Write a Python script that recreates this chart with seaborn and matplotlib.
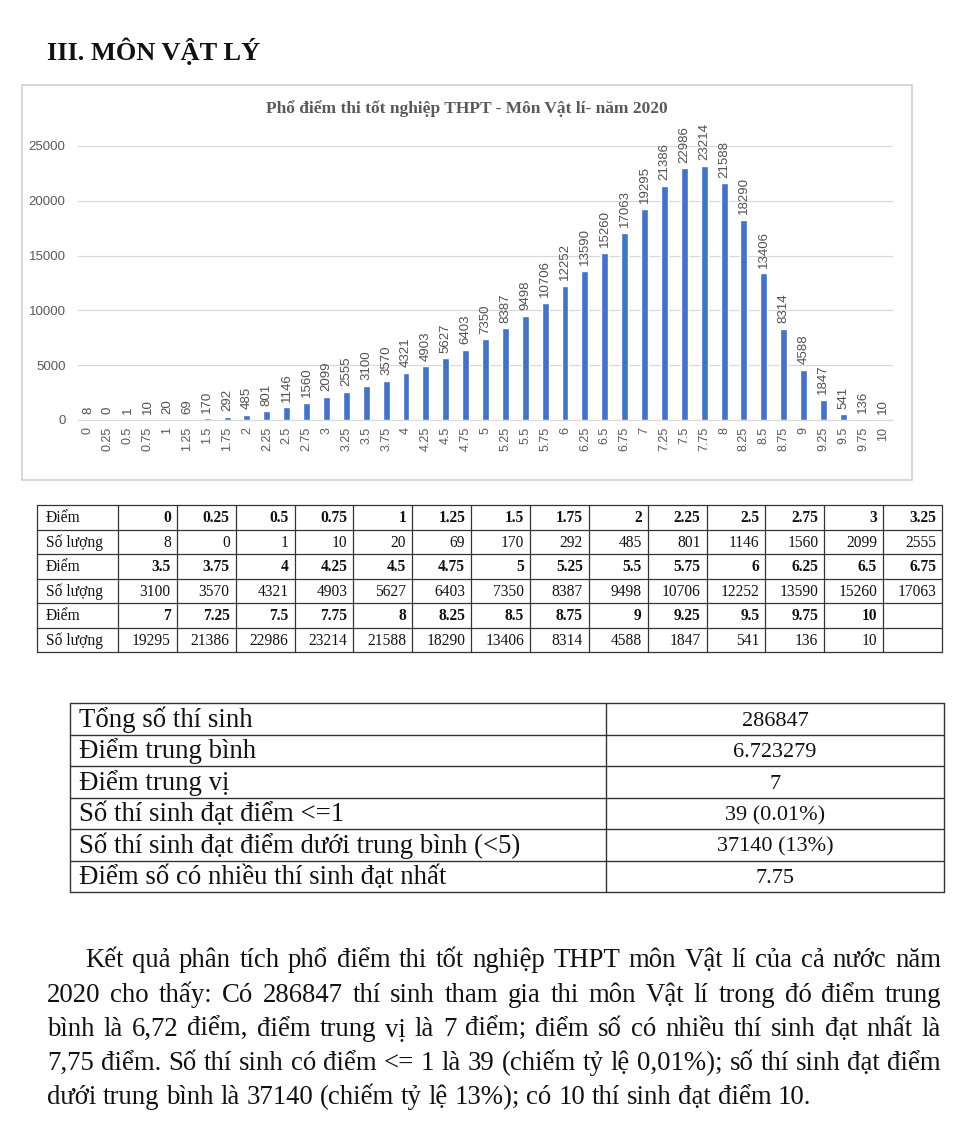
import matplotlib
matplotlib.use("Agg")
import matplotlib.pyplot as plt
import seaborn as sns

# Score distribution - Physics 2020
scores = ["0", "0.25", "0.5", "0.75", "1", "1.25", "1.5", "1.75", "2", "2.25",
          "2.5", "2.75", "3", "3.25", "3.5", "3.75", "4", "4.25", "4.5", "4.75",
          "5", "5.25", "5.5", "5.75", "6", "6.25", "6.5", "6.75", "7", "7.25",
          "7.5", "7.75", "8", "8.25", "8.5", "8.75", "9", "9.25", "9.5", "9.75", "10"]
counts = [8, 0, 1, 10, 20, 69, 170, 292, 485, 801,
          1146, 1560, 2099, 2555, 3100, 3570, 4321, 4903, 5627, 6403,
          7350, 8387, 9498, 10706, 12252, 13590, 15260, 17063, 19295, 21386,
          22986, 23214, 21588, 18290, 13406, 8314, 4588, 1847, 541, 136, 10]
y_ticks = [0, 5000, 10000, 15000, 20000, 25000]

heading = "III. MÔN VẬT LÝ"
chart_title = "Phổ điểm thi tốt nghiệp THPT - Môn Vật lí- năm 2020"
row_label_score = "Điểm"
row_label_count = "Số lượng"

summary_labels = ["Tổng số thí sinh", "Điểm trung bình", "Điểm trung vị",
                  "Số thí sinh đạt điểm <=1",
                  "Số thí sinh đạt điểm dưới trung bình (<5)",
                  "Điểm số có nhiều thí sinh đạt nhất"]
summary_values = ["286847", "6.723279", "7", "39 (0.01%)", "37140 (13%)", "7.75"]

paragraph = [
    "Kết quả phân tích phổ điểm thi tốt nghiệp THPT môn Vật lí của cả nước năm",
    "2020 cho thấy: Có 286847 thí sinh tham gia thi môn Vật lí trong đó điểm trung",
    "bình là 6,72 điểm, điểm trung vị là 7 điểm; điểm số có nhiều thí sinh đạt nhất là",
    "7,75 điểm. Số thí sinh có điểm <= 1 là 39 (chiếm tỷ lệ 0,01%); số thí sinh đạt điểm",
    "dưới trung bình là 37140 (chiếm tỷ lệ 13%); có 10 thí sinh đạt điểm 10.",
]

SERIF = ["Liberation Serif", "DejaVu Serif"]
SANS = ["Liberation Sans", "DejaVu Sans"]
GRAY = "#595959"
BLUE = "#4472C4"
INK = "#111111"

sns.set_style("white")
plt.rcParams["font.family"] = SERIF

W, H = 960, 1126
fig = plt.figure(figsize=(W / 100, H / 100), dpi=100)
fig.patch.set_facecolor("white")

# page axes in pixel coordinates for text and tables
page = fig.add_axes([0, 0, 1, 1])
page.set_xlim(0, W)
page.set_ylim(H, 0)
page.axis("off")

page.text(47, 60, heading, fontsize=19, fontweight="bold", va="baseline", ha="left",
          color=INK)

# chart frame
page.add_patch(plt.Rectangle((22, 85), 890, 395, fill=False, ec="#D0D0D0", lw=1.2))
page.text(467, 113, chart_title, fontsize=12.5, fontweight="bold", color=GRAY,
          ha="center", va="baseline")

# ---- bar chart ----
ax = fig.add_axes([78 / W, 1 - 420 / H, (893 - 78) / W, (420 - 146) / H])
sns.barplot(x=scores, y=counts, color=BLUE, width=0.35, saturation=1, ax=ax)
ax.set_xlim(-0.5, len(scores) - 0.5)
ax.set_ylim(0, 25000)
ax.set_yticks(y_ticks)
ax.yaxis.grid(True, color="#D9D9D9", lw=0.9)
ax.set_axisbelow(True)
for s in ["top", "right", "left"]:
    ax.spines[s].set_visible(False)
ax.spines["bottom"].set_color("#D9D9D9")
ax.tick_params(axis="x", rotation=90, length=0, pad=5, labelsize=9, labelcolor=GRAY)
ax.tick_params(axis="y", length=0, pad=9, labelsize=9.5, labelcolor=GRAY)
for lab in ax.get_xticklabels() + ax.get_yticklabels():
    lab.set_fontfamily(SANS)
ax.bar_label(ax.containers[0], labels=[str(c) for c in counts], rotation=90,
             padding=4, fontsize=9.5, color="#505050", family=SANS)
ax.set_xlabel("")
ax.set_ylabel("")
ax.patch.set_alpha(0)

# ---- data table ----
tx0, tx1, tcol0 = 37, 942, 118
ty0, ty1 = 505, 652
ncols = 14
cw = (tx1 - tcol0) / ncols
rh = (ty1 - ty0) / 6
for i in range(7):
    page.plot([tx0, tx1], [ty0 + i * rh] * 2, color="#333333", lw=0.9)
for j in range(ncols + 1):
    x = tcol0 + j * cw
    page.plot([x, x], [ty0, ty1], color="#333333", lw=0.9)
page.plot([tx0, tx0], [ty0, ty1], color="#333333", lw=0.9)

for blk in range(3):
    sc = scores[blk * ncols:(blk + 1) * ncols]
    ct = counts[blk * ncols:(blk + 1) * ncols]
    yr = ty0 + (2 * blk + 0.5) * rh + 5
    yc = ty0 + (2 * blk + 1.5) * rh + 5
    page.text(46, yr, row_label_score, fontsize=11.2, va="baseline", ha="left", color=INK)
    page.text(46, yc, row_label_count, fontsize=11.2, va="baseline", ha="left", color=INK)
    for j, (s, c) in enumerate(zip(sc, ct)):
        xr = tcol0 + (j + 1) * cw - 6
        page.text(xr, yr, s, fontsize=11.2, fontweight="bold", va="baseline", ha="right",
                  color=INK)
        page.text(xr, yc, str(c), fontsize=11.2, va="baseline", ha="right", color=INK)

# ---- summary table ----
sx0, sx1, sdiv = 70, 944, 606
sy0, sy1 = 703, 892
srh = (sy1 - sy0) / len(summary_labels)
for i in range(len(summary_labels) + 1):
    page.plot([sx0, sx1], [sy0 + i * srh] * 2, color="#333333", lw=1)
for x in [sx0, sdiv, sx1]:
    page.plot([x, x], [sy0, sy1], color="#333333", lw=1)
for i, (lab, val) in enumerate(zip(summary_labels, summary_values)):
    yc = sy0 + (i + 0.5) * srh
    page.text(79, yc + 8, lab, fontsize=19.3, va="baseline", ha="left", color=INK)
    page.text((sdiv + sx1) / 2, yc + 7, val, fontsize=16, va="baseline", ha="center",
              color=INK)

# ---- justified paragraph ----
renderer = fig.canvas.get_renderer()
p_left, p_right, p_indent = 47, 941, 85
p_size = 19.3
line_y = [967, 1002, 1036, 1070, 1104]
for k, line in enumerate(paragraph):
    words = line.split(" ")
    arts = [page.text(0, line_y[k], w, fontsize=p_size, va="baseline", ha="left",
                      color=INK) for w in words]
    widths = [a.get_window_extent(renderer).width for a in arts]
    x = p_indent if k == 0 else p_left
    if k < len(paragraph) - 1:
        gap = (p_right - x - sum(widths)) / (len(words) - 1)
    else:
        gap = p_size * 0.25 * 100 / 72
    for a, w in zip(arts, widths):
        a.set_x(x)
        x += w + gap

fig.savefig("out.png", dpi=100, facecolor="white")
